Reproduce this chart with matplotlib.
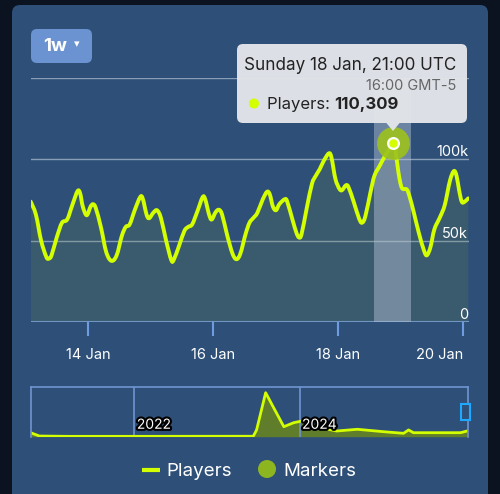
import numpy as np
import matplotlib
matplotlib.use("Agg")
import matplotlib.pyplot as plt
import matplotlib.dates as mdates
from matplotlib.patches import FancyBboxPatch, Polygon, Rectangle, Circle, PathPatch
from matplotlib.path import Path
import matplotlib.patheffects as pe

plt.rcParams['font.family'] = ['Inter', 'DejaVu Sans']

# hourly player counts, hours counted from 13 Jan 2026 00:00 UTC
hours = [2, 4, 6, 8, 9, 10, 12, 14, 16, 18, 20, 21, 22, 23.5, 25, 26, 27, 29, 31, 33,
         35, 37, 38.5, 40, 42, 44, 45, 46.5, 47.5, 49, 50.5, 52, 54, 56, 57, 59, 61,
         62.5, 64, 66, 68, 69, 70.5, 71.5, 73, 74.3, 75.5, 77.5, 79.5, 81, 82.5, 84.5,
         86, 87.5, 89, 91, 92.7, 93.8, 95, 96.2, 97.5, 99.6, 100.5, 102.5, 104, 105,
         106, 108, 110, 111.5, 113, 114.5, 116.5, 117.5, 119, 120.5, 121.5, 123, 124,
         126, 128, 129.2, 130.5, 132.5, 134, 136, 138, 140, 141, 142, 143.2, 144.5,
         146.4, 147.5, 149, 151, 153, 154.1, 155.5, 157, 159.2, 161, 163, 164.5, 165.5,
         166.5, 167.5, 168.5, 170]
players = [74000, 66000, 50000, 40000, 39000, 41000, 52000, 61000, 63000, 72000, 80500,
           79000, 71000, 65600, 71000, 72400, 70000, 58000, 43000, 37600, 41000, 53000,
           58500, 60000, 69000, 76700, 76000, 66000, 63800, 67000, 68700, 64000, 50000,
           38000, 38500, 47000, 56000, 58500, 60000, 68000, 76700, 75500, 66000, 63000,
           67500, 69000, 66000, 53000, 42000, 38600, 42000, 54000, 61000, 64000, 67000,
           75000, 80000, 78500, 71000, 68700, 72500, 75500, 74000, 63000, 55000, 52000,
           54000, 70000, 85000, 90000, 94000, 99000, 103700, 101000, 88000, 82000, 81000,
           84000, 83000, 74000, 64000, 61000, 65000, 80000, 90000, 96000, 102000, 107000,
           110309, 106000, 92000, 82500, 81500, 77000, 68000, 55000, 44000, 41000, 46000,
           57000, 64600, 72000, 87000, 92800, 90000, 81000, 74000, 73800, 76000]

# all-time navigator (decimal years)
nav_year = [2020.745, 2020.85, 2021.2, 2022.0, 2022.8, 2023.44, 2023.48, 2023.59, 2023.68,
            2023.81, 2023.93, 2024.03, 2024.2, 2024.45, 2024.70, 2025.02, 2025.26, 2025.32,
            2025.38, 2025.62, 2025.95, 2026.03]
nav_players = [89000, 15000, 8000, 8000, 9000, 10000, 150000, 980000, 668000, 223000,
               312000, 350000, 220000, 127000, 165000, 111000, 75000, 150000, 89000,
               89000, 89000, 127000]

x_ticks = ['2026-01-14', '2026-01-16', '2026-01-18', '2026-01-20']
y_ticks = [0, 50000, 100000, 150000]
y_labels = ['0', '50k', '100k', '']

LINE = '#d4ff00'
PANEL = '#2e5078'


def spline_path(x, y, close_to=None):
    # smooth drawing path through the points (cubic bezier, catmull-rom handles)
    p = np.column_stack([x, y])
    n = len(p)
    verts = [p[0]]
    codes = [Path.MOVETO]
    for i in range(n - 1):
        a = p[max(i - 1, 0)]
        d = p[min(i + 2, n - 1)]
        c1 = p[i] + (p[i + 1] - a) / 6
        c2 = p[i + 1] - (d - p[i]) / 6
        verts += [c1, c2, p[i + 1]]
        codes += [Path.CURVE4] * 3
    if close_to is not None:
        verts += [[x[-1], close_to], [x[0], close_to], p[0]]
        codes += [Path.LINETO, Path.LINETO, Path.CLOSEPOLY]
    return Path(np.array(verts), codes)


start = np.datetime64('2026-01-13T00:00')
times = start + (np.array(hours) * 60).astype(int).astype('timedelta64[m]')
tnum = mdates.date2num(times)
players = np.array(players)
pk = int(np.argmax(players))

fig = plt.figure(figsize=(5, 4.94), dpi=100, facecolor='#0b1320')

# background panel in pixel coords
bg = fig.add_axes([0, 0, 1, 1], zorder=0)
bg.set_xlim(0, 500)
bg.set_ylim(494, 0)
bg.axis('off')
bg.add_patch(FancyBboxPatch((12, 5), 476, 520, boxstyle='round,pad=0,rounding_size=8',
                            fc=PANEL, ec='none'))
# 1w button
bg.add_patch(FancyBboxPatch((31, 29), 61, 34, boxstyle='round,pad=0,rounding_size=6',
                            fc='#6b93d2', ec='none'))
bg.text(55, 46.5, '1w', color='white', fontsize=13.5, fontweight='bold', ha='center', va='center')
bg.text(77, 44, '▾', color='white', fontsize=8, ha='center', va='center', family='DejaVu Sans')

# legend
bg.plot([142, 160], [470, 470], color=LINE, lw=3, solid_capstyle='butt')
bg.text(166, 471, 'Players', color='white', fontsize=13.5, va='center')
bg.add_patch(Circle((267, 469), 9, fc='#8db520', ec='none'))
bg.text(283, 471, 'Markers', color='white', fontsize=13.5, va='center')

# main chart
ax = fig.add_axes([31 / 500, (494 - 322) / 494, 438 / 500, 244 / 494], zorder=1)
ax.set_facecolor('none')
x0 = mdates.date2num(start + np.timedelta64(127, 'm'))
x1 = mdates.date2num(start + np.timedelta64(170 * 60 + 18, 'm'))
ax.set_xlim(x0, x1)
ax.set_ylim(0, 150000)
for s in ax.spines.values():
    s.set_visible(False)
for v in y_ticks[1:]:
    ax.axhline(v, color='#a9b8cc', lw=1, alpha=0.75, zorder=1)
ax.axhline(0, color='#6f9be0', lw=1.5, zorder=2)

ax.add_patch(PathPatch(spline_path(tnum, players, close_to=0), fc='#6f8a4a', alpha=0.2,
                       lw=0, zorder=2))
ax.add_patch(PathPatch(spline_path(tnum, players), fc='none', ec=LINE, lw=2.8, zorder=4,
                       joinstyle='round', capstyle='round'))

# hover band
ax.axvspan(tnum[pk] - 7 / 24, tnum[pk] + 7 / 24, color='#b9c5da', alpha=0.45, lw=0, zorder=3)
ax.scatter([tnum[pk]], [players[pk]], s=560, color='#9cc21c', alpha=0.9, zorder=5,
           lw=0, clip_on=False)
ax.scatter([tnum[pk]], [players[pk]], s=60, color=LINE, edgecolor='white', lw=1.6,
           zorder=6, clip_on=False)

ax.set_xticks(mdates.date2num(np.array(x_ticks, dtype='datetime64[m]')))
ax.xaxis.set_major_formatter(mdates.DateFormatter('%d Jan'))
ax.tick_params(axis='x', colors='#6f9be0', length=10, width=1.5, pad=9,
               labelcolor='white', labelsize=10.5)
last = ax.get_xticklabels()[-1]
last.set_horizontalalignment('right')
last.set_x(x1)
ax.set_yticks([])
for v, lab in zip(y_ticks, y_labels):
    ax.text(0.998, v, lab, transform=ax.get_yaxis_transform(), ha='right', va='bottom',
            color='white', fontsize=10.5, zorder=3)

# navigator
nav = fig.add_axes([30.7 / 500, (494 - 436.7) / 494, 437.3 / 500, 49.4 / 494], zorder=1)
nav.set_facecolor('none')
nav.set_xlim(nav_year[0], 2026.04)
nav.set_ylim(0, 1100000)
nav.fill_between(nav_year, nav_players, 0, color='#708d10', alpha=0.75, lw=0)
nav.plot(nav_year, nav_players, color=LINE, lw=2)
for s in ['left', 'right', 'top']:
    nav.spines[s].set_color('#6f95d2')
    nav.spines[s].set_linewidth(1.2)
nav.spines['bottom'].set_visible(False)
nav.set_xticks([2022, 2024])
nav.grid(axis='x', color='#6f95d2', lw=1.2)
nav.tick_params(length=0, labelbottom=False, labelleft=False)
for yr in [2022, 2024]:
    nav.text(yr + 0.03, 0.1, str(yr), transform=nav.get_xaxis_transform(), color='white',
             fontsize=10, ha='left', va='bottom', zorder=5,
             path_effects=[pe.withStroke(linewidth=3, foreground='black')])
# selection handle
nav.add_patch(Rectangle((0.985, 0.33), 0.02, 0.34, transform=nav.transAxes,
                        fc='#2e5078', ec='#1fa8ff', lw=1.5, clip_on=False, zorder=6))

# tooltip overlay
top = fig.add_axes([0, 0, 1, 1], zorder=3)
top.set_xlim(0, 500)
top.set_ylim(494, 0)
top.axis('off')
top.add_patch(FancyBboxPatch((237, 44), 230, 79, boxstyle='round,pad=0,rounding_size=6',
                             fc='#e3e5e9', ec='none', alpha=0.97))
top.add_patch(Polygon([[386, 122.5], [400, 122.5], [393, 131]], closed=True,
                      fc='#e3e5e9', ec='none', alpha=0.97))
t_peak = times[pk].astype('datetime64[m]').item()
t_local = (times[pk] - np.timedelta64(5, 'h')).astype('datetime64[m]').item()
top.text(456, 66, t_peak.strftime('%A %d Jan, %H:%M UTC'), color='#222222', fontsize=12.3,
         ha='right', va='center')
top.text(456, 85.5, t_local.strftime('%H:%M GMT-5'), color='#666666', fontsize=10.5,
         ha='right', va='center')
top.add_patch(Circle((254, 103.5), 5, fc=LINE, ec='none'))
tx = top.text(267, 104, 'Players: ', color='#222222', fontsize=12, ha='left', va='center')
fig.canvas.draw()
bb = tx.get_window_extent().transformed(top.transData.inverted())
top.text(bb.x1, 104, f'{players[pk]:,}', color='#222222', fontsize=12, fontweight='bold',
         ha='left', va='center')

fig.savefig('out.png', dpi=100, facecolor=fig.get_facecolor())
